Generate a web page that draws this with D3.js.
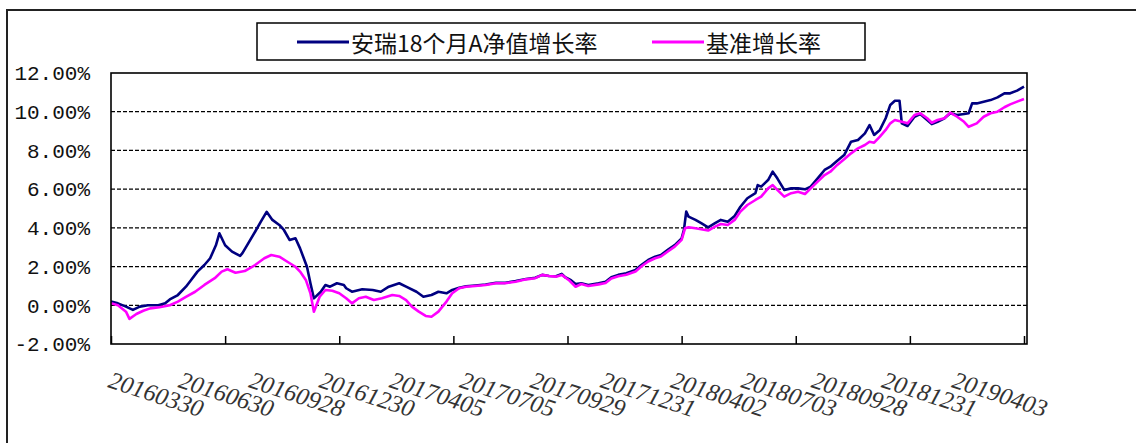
<!DOCTYPE html>
<html>
<head>
<meta charset="utf-8">
<script src="https://cdn.jsdelivr.net/npm/d3@7"></script>
<style>
  body { margin: 0; background: #fff; }
</style>
</head>
<body>
<div id="vis"></div>
<script>
// series names for the legend
const seriesNames = ["安瑞18个月A净值增长率", "基准增长率"];
const seriesColors = ["#000080", "#FF00FF"];

// category axis: trading day index since 20160330
const xLabels = ["20160330", "20160630", "20160928", "20161230", "20170405", "20170705",
  "20170929", "20171231", "20180402", "20180703", "20180928", "20181231", "20190403"];
const labelDays = [0, 61, 122, 183, 244, 305, 366, 427, 488, 549, 610, 671, 732];
const tickDays = [0, 99, 198, 297, 396, 495, 594, 693, 792];
const yTicks = [-2, 0, 2, 4, 6, 8, 10, 12];

// fund NAV growth (%)
const fundDays = [0,6,13,19,25,32,41,47,51,58,65,69,75,81,86,91,94,99,105,112,114,118,125,130,135,140,146,150,155,160,164,170,173,176,182,186,190,196,202,204,209,218,227,234,241,250,256,265,271,278,284,291,296,302,308,316,325,334,342,351,360,368,374,380,386,391,394,399,403,408,414,423,429,434,440,447,455,460,466,472,477,483,489,495,497,499,501,507,512,518,524,529,535,541,546,552,559,561,564,567,570,574,578,584,590,596,602,607,613,619,624,630,636,642,648,654,658,662,667,672,676,680,684,686,691,697,702,708,712,717,723,728,734,740,744,747,751,757,763,769,775,780,786,792];
const fundValues = [0.19,0.10,-0.07,-0.24,-0.07,0.0,0.0,0.1,0.3,0.53,0.96,1.27,1.74,2.08,2.43,3.1,3.72,3.1,2.77,2.55,2.69,3.1,3.8,4.32,4.83,4.41,4.15,3.89,3.37,3.46,2.94,1.99,1.14,0.36,0.7,1.05,0.96,1.14,1.05,0.88,0.7,0.83,0.79,0.7,0.96,1.14,0.96,0.7,0.44,0.53,0.7,0.62,0.79,0.9,0.98,1.02,1.07,1.16,1.16,1.25,1.36,1.42,1.57,1.51,1.5,1.62,1.45,1.3,1.1,1.14,1.05,1.14,1.22,1.45,1.57,1.65,1.82,2.08,2.34,2.51,2.6,2.86,3.11,3.46,3.9,4.84,4.58,4.41,4.24,4.03,4.24,4.41,4.32,4.61,5.09,5.53,5.79,6.21,6.13,6.3,6.47,6.9,6.56,5.96,6.04,6.04,5.99,6.13,6.56,6.99,7.16,7.47,7.76,8.45,8.54,8.88,9.31,8.8,9.06,9.66,10.35,10.57,10.57,9.4,9.26,9.74,9.88,9.57,9.36,9.48,9.66,9.92,9.83,9.88,9.92,10.43,10.43,10.52,10.6,10.74,10.95,10.95,11.09,11.3];

// benchmark growth (%)
const benchDays = [0,6,13,16,22,28,34,42,51,58,65,73,81,90,96,101,108,116,125,133,139,146,153,160,164,169,173,176,181,186,192,198,204,209,215,221,228,235,244,250,256,261,267,273,278,284,291,296,302,308,316,325,334,342,351,360,368,374,380,386,391,397,403,408,414,423,429,434,440,447,455,460,466,472,477,483,489,495,498,501,507,512,518,524,529,535,541,546,552,559,564,570,574,578,584,590,596,602,607,613,619,624,630,636,642,648,654,658,662,667,672,676,680,686,691,697,702,708,712,717,723,728,734,740,744,751,757,763,769,775,780,786,792];
const benchValues = [0.1,0.0,-0.33,-0.7,-0.45,-0.28,-0.16,-0.1,0.0,0.19,0.44,0.7,1.05,1.4,1.74,1.86,1.68,1.77,2.08,2.43,2.6,2.51,2.25,1.99,1.74,1.31,0.62,-0.33,0.44,0.79,0.75,0.62,0.36,0.1,0.36,0.44,0.27,0.36,0.53,0.48,0.27,-0.07,-0.33,-0.55,-0.59,-0.33,0.19,0.62,0.88,0.96,1.0,1.05,1.14,1.14,1.22,1.34,1.4,1.57,1.51,1.48,1.57,1.31,0.96,1.1,1.0,1.08,1.15,1.38,1.5,1.58,1.75,2.0,2.26,2.43,2.52,2.78,3.03,3.38,3.98,4.03,3.98,3.93,3.86,4.06,4.2,4.15,4.41,4.84,5.18,5.44,5.61,6.04,6.21,5.96,5.61,5.79,5.87,5.75,6.04,6.39,6.73,6.9,7.25,7.54,7.85,8.11,8.28,8.45,8.4,8.71,9.06,9.4,9.57,9.48,9.4,9.83,9.92,9.66,9.43,9.57,9.66,9.95,9.74,9.48,9.22,9.4,9.74,9.92,10.0,10.23,10.38,10.52,10.66];

const width = 1136, height = 443;
const plot = { left: 111, right: 1027, top: 73, bottom: 344 };

const svg = d3.select("#vis")
  .append("svg")
    .attr("width", width)
    .attr("height", height)
    .style("display", "block");

// outer chart frame (runs off the right / bottom edge)
svg.append("rect")
  .attr("x", 7).attr("y", 10)
  .attr("width", width + 20).attr("height", height + 20)
  .attr("fill", "#fff")
  .attr("stroke", "#222")
  .attr("stroke-width", 2);

const x = d3.scaleLinear()
  .domain([0, 792])
  .range([plot.left, 1024]);

const y = d3.scaleLinear()
  .domain([-2, 12])
  .range([plot.bottom, plot.top]);

// dashed gridlines
svg.append("g")
  .selectAll("line")
  .data(yTicks.filter(d => d > -2 && d < 12))
  .join("line")
    .attr("x1", plot.left).attr("x2", plot.right)
    .attr("y1", d => y(d)).attr("y2", d => y(d))
    .attr("stroke", "#000")
    .attr("stroke-width", 1.3)
    .attr("stroke-dasharray", "4,2");

// y axis labels
const yAxis = svg.append("g")
  .attr("transform", `translate(${plot.left},0)`)
  .call(d3.axisLeft(y)
    .tickValues(yTicks)
    .tickSize(0)
    .tickPadding(21)
    .tickFormat(d => d.toFixed(2) + "%"));
yAxis.select(".domain").remove();
yAxis.selectAll("text")
  .style("font-family", "'Liberation Mono', 'DejaVu Sans Mono', monospace")
  .style("font-size", "21px")
  .attr("fill", "#111");

// x axis tick marks (pointing into the plot)
const xAxis = svg.append("g")
  .attr("transform", `translate(0,${plot.bottom})`)
  .call(d3.axisBottom(x)
    .tickValues(tickDays)
    .tickSize(-8)
    .tickFormat(""));
xAxis.select(".domain").remove();
xAxis.selectAll("line").attr("stroke", "#000").attr("stroke-width", 1.5);

// rotated category labels
svg.append("g")
  .selectAll("text")
  .data(xLabels)
  .join("text")
    .attr("transform", (d, i) => `translate(${x(labelDays[i]) - 4},387) rotate(18)`)
    .attr("text-anchor", "start")
    .style("font-family", "'Liberation Serif', 'DejaVu Serif', serif")
    .style("font-style", "italic")
    .style("font-size", "24.5px")
    .attr("fill", "#333")
    .text(d => d);

// lines
const fundData = fundDays.map((d, i) => ({ day: d, value: fundValues[i] }));
const benchData = benchDays.map((d, i) => ({ day: d, value: benchValues[i] }));

const line = d3.line()
  .x(d => x(d.day))
  .y(d => y(d.value));

svg.append("path")
  .datum(fundData)
  .attr("fill", "none")
  .attr("stroke", seriesColors[0])
  .attr("stroke-width", 2.6)
  .attr("stroke-linejoin", "round")
  .attr("d", line);

svg.append("path")
  .datum(benchData)
  .attr("fill", "none")
  .attr("stroke", seriesColors[1])
  .attr("stroke-width", 2.6)
  .attr("stroke-linejoin", "round")
  .attr("d", line);

// plot area border
svg.append("rect")
  .attr("x", plot.left).attr("y", plot.top)
  .attr("width", plot.right - plot.left)
  .attr("height", plot.bottom - plot.top)
  .attr("fill", "none")
  .attr("stroke", "#000")
  .attr("stroke-width", 1.6);

// legend
const legend = svg.append("g");
legend.append("rect")
  .attr("x", 257).attr("y", 23)
  .attr("width", 608).attr("height", 37)
  .attr("fill", "#fff")
  .attr("stroke", "#000")
  .attr("stroke-width", 1.5);

const legendX = [297, 652];
seriesNames.forEach((name, i) => {
  legend.append("line")
    .attr("x1", legendX[i]).attr("x2", legendX[i] + 52)
    .attr("y1", 42).attr("y2", 42)
    .attr("stroke", seriesColors[i])
    .attr("stroke-width", 3);
  legend.append("text")
    .attr("x", legendX[i] + 54)
    .attr("y", 42)
    .attr("dominant-baseline", "central")
    .style("font-family", "'Noto Sans CJK SC', sans-serif")
    .style("font-size", "23px")
    .attr("fill", "#111")
    .text(name);
});
</script>
</body>
</html>
